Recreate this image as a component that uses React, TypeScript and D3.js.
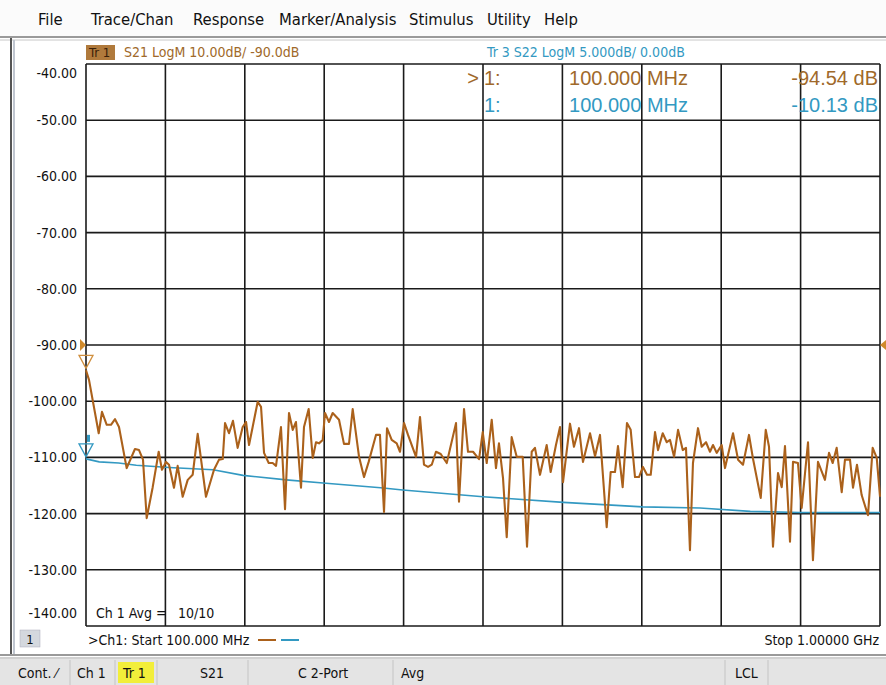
import React from "react";
import * as d3 from "d3";

// S21 trace (Tr 1), frequency in MHz, magnitude in dB
const s21Freq = [
  100, 103.4, 114.4, 118.1, 123.5, 128.3, 132.9, 137.4, 146.1, 155.5, 160.1, 164.6, 168.8, 175.6, 182.4, 186.1,
  190.7, 194.1, 199.7, 203.9, 209.6, 215.3, 220.9, 226.6, 236, 245.1, 250.8, 255, 257.6, 262.1, 266.6, 271.9,
  277.6, 281.4, 284.8, 288.9, 294.6, 298.4, 301.8, 307.1, 311.6, 315.4, 321, 325.6, 330.1, 334.3, 338, 343.7,
  347.1, 352.4, 357, 360.7, 364.1, 368.3, 370.9, 375.4, 379.6, 386.8, 392.4, 398.1, 402.3, 409.5, 415.1, 420.4,
  428.7, 433.2, 437.8, 441.2, 446.5, 452.2, 455.9, 460.5, 465, 474.1, 478.6, 483.1, 487.7, 491.9, 496.7, 502.1,
  508.9, 519.4, 522.8, 528.5, 533, 538.7, 545.5, 549.7, 554.2, 559.9, 564.7, 568.1, 572.7, 576.9, 582.5, 588.2,
  595, 599.9, 605.2, 608.9, 614.6, 622.2, 626.7, 632.7, 637.3, 640.7, 648.6, 653.1, 658.8, 663.3, 671.3, 677,
  682.6, 690.2, 694.7, 699.6, 703, 708.3, 713.2, 717.4, 722.3, 726.8, 731.3, 735.9, 740.1, 745, 748.4, 753.7,
  758.3, 762, 766.6, 771.1, 776.4, 780.1, 784.6, 788, 793.7, 797.9, 802.8, 807.3, 810.7, 814.9, 820.6, 824.3,
  833.4, 839.1, 844.7, 851.5, 856, 864.8, 870.5, 874.2, 878.7, 884.4, 888.6, 892.3, 898, 901.4, 907, 911.2,
  918.4, 924, 929.7, 937.6, 942.2, 946.4, 950.9, 956.6, 960.3, 966, 969.4, 973.9, 979.2, 986.4, 991.7, 996.3, 1000
];
const s21Db = [
  -94.5, -96.2, -105.7, -101.9, -104.2, -104.2, -103.2, -104.6, -111.9, -108.5, -108.7, -110.4, -120.8, -115.3, -109, -112.2,
  -110.8, -111.3, -115.4, -111.5, -117, -114, -113.1, -105.8, -117, -112.2, -110.4, -110.3, -103.9, -105.7, -103.5, -108.3,
  -104.6, -103.7, -107.8, -104.6, -100.1, -101, -109.2, -111, -111, -111.5, -104.6, -119.2, -102.1, -105.1, -103.7, -115.4,
  -104.6, -101.4, -110.1, -107.3, -107.5, -106.9, -102.1, -103.7, -102.1, -103.3, -107.6, -107.6, -101.4, -109.9, -113.5, -110.8,
  -106, -106, -119.7, -104.8, -106.9, -107.5, -109, -103.9, -106, -109.9, -102.8, -111.3, -111.7, -111.3, -109, -109.4,
  -111, -103.9, -117.9, -101.4, -109, -109, -110.3, -105.5, -111, -103.3, -111.9, -107.5, -113.7, -124.2, -106.4, -109.9,
  -109.9, -125.9, -109, -108.3, -113.1, -107.8, -112.6, -107.8, -104.6, -114.4, -104, -108.1, -104.8, -110.8, -105.7, -109.8,
  -106, -122.4, -112.6, -112.6, -108, -115.3, -103.9, -105.1, -113.5, -113.5, -111.7, -113.1, -113.1, -105.5, -108.7, -105.7,
  -107.3, -106.9, -109.9, -105.1, -108.7, -108.3, -126.5, -111, -104.8, -108.1, -107.3, -109, -107.8, -109.2, -107.8, -111.9,
  -105.7, -110.4, -111.3, -106, -110.2, -117.2, -105.1, -108.1, -125.9, -112.8, -115.3, -108, -125, -110.8, -111, -119,
  -107.3, -128.3, -110.8, -114, -109.2, -111, -108.3, -116.2, -110.4, -110.4, -115.4, -111.3, -116.7, -120.3, -108.3, -110.1, -117
];

// S22 trace (Tr 3), frequency in MHz, magnitude in dB
const s22Freq = [100, 115, 137, 157, 194, 244, 278, 327, 372, 434, 459, 550, 641, 686, 731, 796, 853, 909, 1000];
const s22Db = [-10.13, -10.4, -10.5, -10.7, -10.9, -11.1, -11.6, -12.0, -12.3, -12.7, -12.9, -13.5, -14.0, -14.2, -14.4, -14.5, -14.8, -14.9, -14.9];

const yTicks = [-40, -50, -60, -70, -80, -90, -100, -110, -120, -130, -140];
const freqTicks = [100, 190, 280, 370, 460, 550, 640, 730, 820, 910, 1000];
const menuItems = ["File", "Trace/Chan", "Response", "Marker/Analysis", "Stimulus", "Utility", "Help"];
const menuX = [38, 91, 193, 279, 409, 487, 544];
const statusItems = ["Cont. ⁄", "Ch 1", "Tr 1", "S21", "C  2-Port", "Avg", "LCL"];
const statusX = [18, 77, 123, 200, 298, 401, 735];

const W = 886;
const H = 685;
const brown = "#ab611b";
const brownText = "#a0692a";
const blue = "#3399c2";
const narrow = "'Liberation Sans Narrow', 'DejaVu Sans Condensed', Arial, sans-serif";
const sans = "'Liberation Sans', Arial, sans-serif";

export default function App() {
  const x = d3.scaleLinear().domain([100, 1000]).range([86, 880]);
  const y1 = d3.scaleLinear().domain([-140, -40]).range([626, 64]);
  const y3 = d3.scaleLinear().domain([-25, 25]).range([626, 64]);

  const line1 = d3.line<number>().x((d, i) => x(s21Freq[i])).y((d) => y1(d));
  const line3 = d3.line<number>().x((d, i) => x(s22Freq[i])).y((d) => y3(d));

  // end labels are nudged inside the grid, as on the instrument screen
  const labelY = (t: number) => (t === -40 ? y1(t) + 14 : t === -140 ? y1(t) - 8 : y1(t) + 5);

  return (
    <div style={{ position: "fixed", left: 0, top: 0, width: W, height: H, overflow: "hidden" }}>
      <svg width={W} height={H} style={{ display: "block", background: "#fff" }}>
        {/* menu bar */}
        <rect x={0} y={0} width={W} height={38} fill="#fbfbfb" />
        {menuItems.map((m, i) => (
          <text key={m} x={menuX[i]} y={25} fontFamily={narrow} fontSize={16.5} fill="#111">{m}</text>
        ))}
        <line x1={0} x2={W} y1={37} y2={37} stroke="#9a9a9a" strokeWidth={2} />
        <line x1={0} x2={W} y1={40} y2={40} stroke="#c8c8c8" strokeWidth={1} />
        <line x1={11} x2={11} y1={38} y2={656} stroke="#555" strokeWidth={2} />
        <line x1={14} x2={14} y1={40} y2={656} stroke="#c0c6d0" strokeWidth={2} />

        {/* trace header */}
        <rect x={86} y={45} width={29} height={15} fill="#b07a3c" />
        <text x={89} y={57} fontFamily={narrow} fontSize={13} fill="#3a2008">Tr 1</text>
        <text x={124} y={57} fontFamily={narrow} fontSize={14} fill={brownText}>S21 LogM 10.00dB/ -90.0dB</text>
        <text x={487} y={57} fontFamily={narrow} fontSize={14} fill={blue}>Tr 3  S22 LogM 5.000dB/ 0.00dB</text>

        {/* grid */}
        {freqTicks.map((f) => (
          <line key={"v" + f} x1={x(f)} x2={x(f)} y1={y1(-40)} y2={y1(-140)} stroke="#1a1a1a" strokeWidth={1.6} />
        ))}
        {yTicks.map((t) => (
          <line key={"h" + t} x1={x(100)} x2={x(1000)} y1={y1(t)} y2={y1(t)} stroke="#1a1a1a" strokeWidth={1.6} />
        ))}
        {yTicks.map((t) => (
          <text key={"l" + t} x={77} y={labelY(t)} textAnchor="end" fontFamily={narrow} fontSize={14} fill="#111">
            {t.toFixed(2)}
          </text>
        ))}

        {/* traces */}
        <path d={line3(s22Db) || ""} fill="none" stroke={blue} strokeWidth={1.6} />
        <path d={line1(s21Db) || ""} fill="none" stroke={brown} strokeWidth={2.1} strokeLinejoin="round" />

        {/* reference and marker symbols */}
        <path d={`M${x(100) - 6},${y1(-90) - 6} L${x(100)},${y1(-90)} L${x(100) - 6},${y1(-90) + 6} Z`} fill="#d08a2c" />
        <path d={`M${x(1000) + 6},${y1(-90) - 5} L${x(1000)},${y1(-90)} L${x(1000) + 6},${y1(-90) + 5} Z`} fill="#d08a2c" />
        <path d={`M${x(100) - 7},${y1(-94.5) - 15} L${x(100) + 7},${y1(-94.5) - 15} L${x(100)},${y1(-94.5) - 2} Z`} fill="none" stroke="#d09040" strokeWidth={1.3} />
        <path d={`M${x(100) - 7},${y3(-10.13) - 15} L${x(100) + 7},${y3(-10.13) - 15} L${x(100)},${y3(-10.13) - 2} Z`} fill="none" stroke={blue} strokeWidth={1.3} />
        <rect x={x(100) + 1} y={y3(-10.13) - 24} width={3} height={7} fill={blue} />

        {/* marker readout */}
        <text x={479} y={85} textAnchor="end" fontFamily={sans} fontSize={20} fill={brownText}>&gt;</text>
        <text x={484} y={85} fontFamily={sans} fontSize={20} fill={brownText}>1:</text>
        <text x={688} y={85} textAnchor="end" fontFamily={sans} fontSize={20} fill={brownText}>100.000 MHz</text>
        <text x={878} y={85} textAnchor="end" fontFamily={sans} fontSize={20} fill={brownText}>-94.54 dB</text>
        <text x={484} y={112} fontFamily={sans} fontSize={20} fill={blue}>1:</text>
        <text x={688} y={112} textAnchor="end" fontFamily={sans} fontSize={20} fill={blue}>100.000 MHz</text>
        <text x={878} y={112} textAnchor="end" fontFamily={sans} fontSize={20} fill={blue}>-10.13 dB</text>

        {/* averaging */}
        <text x={96} y={618} fontFamily={narrow} fontSize={14} fill="#111">Ch 1 Avg =</text>
        <text x={178} y={618} fontFamily={narrow} fontSize={14} fill="#111">10/10</text>

        {/* stimulus line */}
        <rect x={20} y={630} width={20} height={17} fill="#d4d8de" stroke="#aab" strokeWidth={0.5} />
        <text x={30} y={644} textAnchor="middle" fontFamily={narrow} fontSize={13} fill="#111">1</text>
        <text x={88} y={645} fontFamily={narrow} fontSize={14} fill="#111">&gt;Ch1:  Start  100.000 MHz</text>
        <line x1={258} x2={276} y1={640} y2={640} stroke={brown} strokeWidth={2} />
        <line x1={281} x2={299} y1={640} y2={640} stroke={blue} strokeWidth={2} />
        <text x={879} y={645} textAnchor="end" fontFamily={narrow} fontSize={14} fill="#111">Stop  1.00000 GHz</text>

        {/* status bar */}
        <line x1={0} x2={W} y1={655} y2={655} stroke="#9a9a9a" strokeWidth={2} />
        <rect x={0} y={657} width={W} height={28} fill="#e4e4e4" />
        <line x1={0} x2={W} y1={658} y2={658} stroke="#bdbdbd" strokeWidth={1} />
        <rect x={118} y={662} width={36} height={21} fill="#f2ee3a" />
        {statusItems.map((s, i) => (
          <text key={s} x={statusX[i]} y={678} fontFamily={narrow} fontSize={14} fill="#111">{s}</text>
        ))}
        {[70, 115, 157, 248, 393, 725, 768].map((sx) => (
          <line key={"s" + sx} x1={sx} x2={sx} y1={660} y2={685} stroke="#c4c4c4" strokeWidth={1} />
        ))}
      </svg>
    </div>
  );
}
